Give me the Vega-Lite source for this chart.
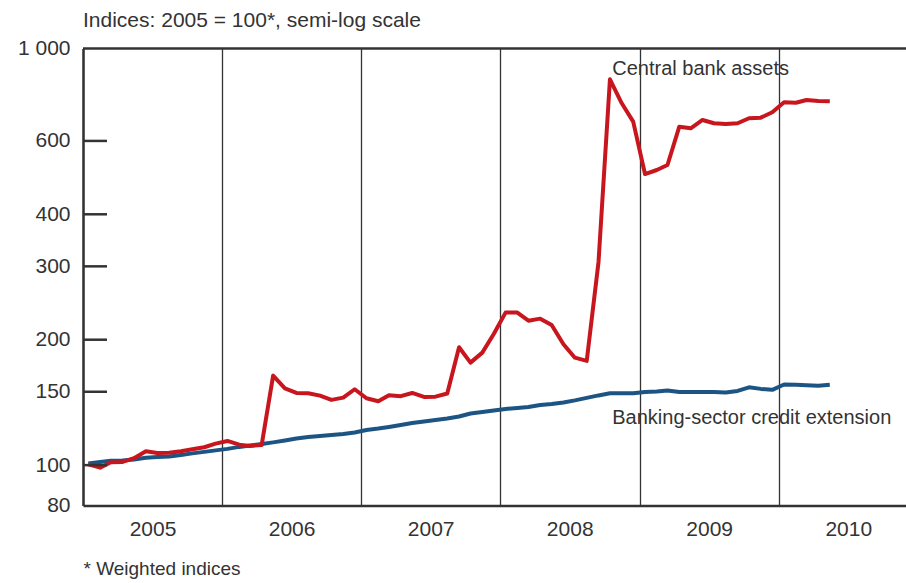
{
  "$schema": "https://vega.github.io/schema/vega-lite/v6.json",
  "width": 823,
  "height": 457,
  "autosize": {"type": "none"},
  "padding": {"left": 83, "top": 48.5, "right": 0, "bottom": 77.5},
  "background": "white",
  "config": {
    "view": {"stroke": null},
    "font": "Liberation Sans",
    "text": {"font": "Liberation Sans"}
  },
  "title": {
    "text": "Indices: 2005 = 100*, semi-log scale",
    "anchor": "start",
    "frame": "group",
    "fontSize": 21,
    "fontWeight": "normal",
    "color": "#333333",
    "offset": 7
  },
  "data": {
    "values": [
      {"date": "2005-01-15", "cb": 100.5, "bank": 100.9},
      {"date": "2005-02-15", "cb": 98.6, "bank": 101.8},
      {"date": "2005-03-15", "cb": 101.6, "bank": 102.4},
      {"date": "2005-04-15", "cb": 101.8, "bank": 102.6},
      {"date": "2005-05-15", "cb": 103.9, "bank": 103.2},
      {"date": "2005-06-15", "cb": 108.0, "bank": 104.1},
      {"date": "2005-07-15", "cb": 106.9, "bank": 104.6},
      {"date": "2005-08-15", "cb": 107.1, "bank": 104.9},
      {"date": "2005-09-15", "cb": 108.0, "bank": 105.8},
      {"date": "2005-10-15", "cb": 109.2, "bank": 106.7},
      {"date": "2005-11-15", "cb": 110.4, "bank": 107.6},
      {"date": "2005-12-15", "cb": 112.6, "bank": 108.5},
      {"date": "2006-01-15", "cb": 114.3, "bank": 109.4},
      {"date": "2006-02-15", "cb": 112.0, "bank": 110.6},
      {"date": "2006-03-15", "cb": 111.2, "bank": 111.5},
      {"date": "2006-04-15", "cb": 111.8, "bank": 112.4},
      {"date": "2006-05-15", "cb": 164.0, "bank": 113.4},
      {"date": "2006-06-15", "cb": 152.8, "bank": 114.6},
      {"date": "2006-07-15", "cb": 149.0, "bank": 115.9},
      {"date": "2006-08-15", "cb": 148.8, "bank": 116.8},
      {"date": "2006-09-15", "cb": 146.8, "bank": 117.5},
      {"date": "2006-10-15", "cb": 143.4, "bank": 118.1},
      {"date": "2006-11-15", "cb": 145.2, "bank": 118.8},
      {"date": "2006-12-15", "cb": 152.1, "bank": 119.8},
      {"date": "2007-01-15", "cb": 144.7, "bank": 121.4},
      {"date": "2007-02-15", "cb": 142.3, "bank": 122.4},
      {"date": "2007-03-15", "cb": 147.2, "bank": 123.5},
      {"date": "2007-04-15", "cb": 146.4, "bank": 124.8},
      {"date": "2007-05-15", "cb": 149.0, "bank": 126.2},
      {"date": "2007-06-15", "cb": 145.8, "bank": 127.3},
      {"date": "2007-07-15", "cb": 146.0, "bank": 128.3},
      {"date": "2007-08-15", "cb": 148.6, "bank": 129.4},
      {"date": "2007-09-15", "cb": 191.9, "bank": 130.8},
      {"date": "2007-10-15", "cb": 176.2, "bank": 133.0},
      {"date": "2007-11-15", "cb": 186.2, "bank": 134.1},
      {"date": "2007-12-15", "cb": 206.5, "bank": 135.2},
      {"date": "2008-01-15", "cb": 232.3, "bank": 136.4},
      {"date": "2008-02-15", "cb": 232.3, "bank": 137.1},
      {"date": "2008-03-15", "cb": 222.2, "bank": 137.9},
      {"date": "2008-04-15", "cb": 224.7, "bank": 139.4},
      {"date": "2008-05-15", "cb": 217.0, "bank": 140.2},
      {"date": "2008-06-15", "cb": 195.1, "bank": 141.3},
      {"date": "2008-07-15", "cb": 181.1, "bank": 143.0},
      {"date": "2008-08-15", "cb": 177.9, "bank": 145.0},
      {"date": "2008-09-15", "cb": 307.4, "bank": 147.0},
      {"date": "2008-10-15", "cb": 843.6, "bank": 148.7},
      {"date": "2008-11-15", "cb": 738.8, "bank": 148.7},
      {"date": "2008-12-15", "cb": 667.4, "bank": 148.7},
      {"date": "2009-01-15", "cb": 499.7, "bank": 149.8},
      {"date": "2009-02-15", "cb": 510.9, "bank": 150.3},
      {"date": "2009-03-15", "cb": 525.2, "bank": 151.0},
      {"date": "2009-04-15", "cb": 649.2, "bank": 149.8},
      {"date": "2009-05-15", "cb": 643.5, "bank": 149.8},
      {"date": "2009-06-15", "cb": 673.7, "bank": 149.8},
      {"date": "2009-07-15", "cb": 661.5, "bank": 149.8},
      {"date": "2009-08-15", "cb": 659.0, "bank": 149.4},
      {"date": "2009-09-15", "cb": 661.5, "bank": 150.7},
      {"date": "2009-10-15", "cb": 680.1, "bank": 153.7},
      {"date": "2009-11-15", "cb": 682.4, "bank": 152.4},
      {"date": "2009-12-15", "cb": 703.1, "bank": 151.6},
      {"date": "2010-01-15", "cb": 742.9, "bank": 156.1},
      {"date": "2010-02-15", "cb": 741.2, "bank": 155.9},
      {"date": "2010-03-15", "cb": 752.4, "bank": 155.6},
      {"date": "2010-04-15", "cb": 748.3, "bank": 155.0},
      {"date": "2010-05-15", "cb": 747.3, "bank": 155.9}
    ]
  },
  "layer": [
    {
      "mark": {"type": "line", "color": "#1c5584", "strokeWidth": 4, "strokeJoin": "round"},
      "encoding": {
        "x": {
          "field": "date",
          "type": "temporal",
          "scale": {"type": "utc", "domain": ["2005-01-01", "2010-12-01"]},
          "axis": {
            "title": "* Weighted indices",
            "titleAnchor": "start",
            "titleAlign": "left",
            "titleFontSize": 19,
            "titleFontWeight": "normal",
            "titleColor": "#333333",
            "titlePadding": 20,
            "format": "%Y",
            "formatType": "utc",
            "tickCount": {"interval": "year", "step": 1},
            "labelOffset": 69.5,
            "labelAlign": "center",
            "labelFlush": false,
            "labelFontSize": 21,
            "labelColor": "#333333",
            "labelPadding": 13,
            "ticks": false,
            "tickSize": 0,
            "grid": true,
            "gridColor": "#333333",
            "gridWidth": 1.3,
            "gridOpacity": 1,
            "domainColor": "#333333",
            "domainWidth": 2.5
          }
        },
        "y": {
          "field": "bank",
          "type": "quantitative",
          "scale": {"type": "log", "domain": [80, 1000], "nice": false},
          "axis": {
            "title": null,
            "values": [80, 100, 150, 200, 300, 400, 600, 1000],
            "labelExpr": "datum.value == 1000 ? '1 000' : datum.label",
            "labelFontSize": 21,
            "labelColor": "#333333",
            "labelPadding": 13,
            "ticks": false,
            "tickSize": 0,
            "domainColor": "#333333",
            "domainWidth": 2.5,
            "grid": false
          }
        }
      }
    },
    {
      "mark": {"type": "line", "color": "#c8161e", "strokeWidth": 4, "strokeJoin": "round"},
      "encoding": {
        "x": {"field": "date", "type": "temporal"},
        "y": {"field": "cb", "type": "quantitative"}
      }
    },
    {
      "data": {"values": [{"v": 1000}]},
      "mark": {"type": "rule", "color": "#333333", "strokeWidth": 2.5},
      "encoding": {"y": {"field": "v", "type": "quantitative"}}
    },
    {
      "data": {"values": [{"t": 100}, {"t": 150}, {"t": 200}, {"t": 300}, {"t": 400}, {"t": 600}]},
      "mark": {"type": "rule", "color": "#333333", "strokeWidth": 2.5},
      "encoding": {
        "y": {"field": "t", "type": "quantitative"},
        "x": {"datum": {"year": 2005, "month": 1, "date": 1, "utc": true}, "type": "temporal"},
        "x2": {"datum": {"year": 2005, "month": 3, "date": 5, "utc": true}}
      }
    },
    {
      "data": {"values": [
        {"d": "2008-10-21", "v": 893, "label": "Central bank assets"},
        {"d": "2008-10-21", "v": 130, "label": "Banking-sector credit extension"}
      ]},
      "mark": {"type": "text", "align": "left", "baseline": "middle", "fontSize": 20, "color": "#333333"},
      "encoding": {
        "x": {"field": "d", "type": "temporal"},
        "y": {"field": "v", "type": "quantitative"},
        "text": {"field": "label"}
      }
    }
  ]
}
